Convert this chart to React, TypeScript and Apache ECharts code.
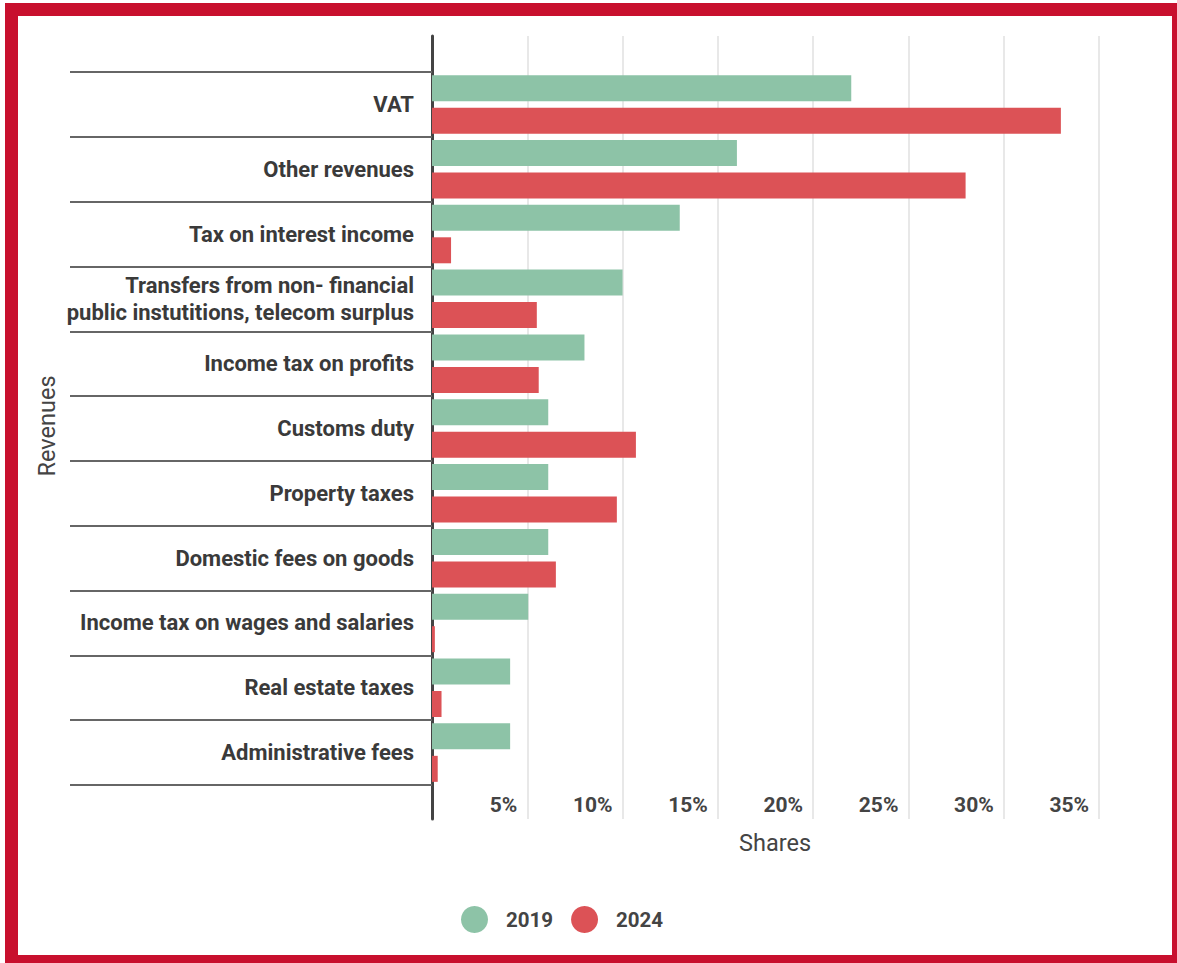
import React, { useEffect, useRef } from "react";
import * as echarts from "echarts";

const categories = [
  "VAT",
  "Other revenues",
  "Tax on interest income",
  "Transfers from non- financial\npublic instutitions, telecom surplus",
  "Income tax on profits",
  "Customs duty",
  "Property taxes",
  "Domestic fees on goods",
  "Income tax on wages and salaries",
  "Real estate taxes",
  "Administrative fees",
];
const values2019 = [22, 16, 13, 10, 8, 6.1, 6.1, 6.1, 5.05, 4.1, 4.1];
const values2024 = [33, 28, 1, 5.5, 5.6, 10.7, 9.7, 6.5, 0.15, 0.5, 0.3];
const seriesNames = ["2019", "2024"];
const xMin = 0;
const xMax = 35;
const xStep = 5;

export default function App() {
  const ref = useRef<HTMLDivElement>(null);
  useEffect(() => {
    if (!ref.current) return;
    const chart = echarts.init(ref.current, undefined, { renderer: "svg" });
    const font = "Roboto, 'Noto Sans', sans-serif";
    chart.setOption({
      animation: false,
      textStyle: { fontFamily: font },
      grid: [
        { left: 432, right: 78, top: 72, bottom: 178 },
        { left: 432, right: 78, top: 36, bottom: 144 },
      ],
      xAxis: [
        { type: "value", gridIndex: 0, min: xMin, max: xMax, interval: xStep, show: false },
        {
          type: "value",
          gridIndex: 1,
          min: xMin,
          max: xMax,
          interval: xStep,
          axisLine: { show: false },
          axisTick: { show: false },
          splitLine: { show: true, lineStyle: { color: "#e0e0e0", width: 1.5 } },
          axisLabel: {
            inside: true,
            margin: 4,
            showMinLabel: false,
            formatter: "{value}%",
            align: "right",
            padding: [0, 10, 0, 0],
            fontSize: 21,
            fontWeight: "bold",
            color: "#444",
            fontFamily: font,
          },
        },
      ],
      yAxis: [
        {
          type: "category",
          gridIndex: 0,
          data: categories,
          inverse: true,
          axisLine: { show: false },
          axisTick: { show: true, length: 362, lineStyle: { color: "#666", width: 2 } },
          axisLabel: {
            margin: 18,
            fontSize: 22,
            fontWeight: "bold",
            color: "#3a3a3a",
            lineHeight: 27,
            fontFamily: font,
          },
          splitLine: { show: false },
        },
        {
          type: "value",
          gridIndex: 1,
          min: 0,
          max: 1,
          axisLine: { show: true, onZero: false, lineStyle: { color: "#444", width: 3 } },
          axisTick: { show: false },
          axisLabel: { show: false },
          splitLine: { show: false },
        },
      ],
      legend: {
        data: seriesNames,
        icon: "circle",
        itemWidth: 27,
        itemHeight: 27,
        itemGap: 18,
        left: 456,
        top: 901,
        textStyle: {
          fontSize: 20.5,
          fontWeight: "bold",
          color: "#444",
          padding: [0, 0, 0, 13],
          fontFamily: font,
        },
      },
      series: [
        {
          name: seriesNames[0],
          type: "bar",
          xAxisIndex: 0,
          yAxisIndex: 0,
          data: values2019,
          barWidth: 26,
          barGap: "25%",
          itemStyle: { color: "#8dc3a7" },
          z: 3,
        },
        {
          name: seriesNames[1],
          type: "bar",
          xAxisIndex: 0,
          yAxisIndex: 0,
          data: values2024,
          barWidth: 26,
          barGap: "25%",
          itemStyle: { color: "#dc5256" },
          z: 3,
        },
      ],
      graphic: [
        {
          type: "text",
          x: 775,
          y: 843,
          style: {
            text: "Shares",
            fontSize: 23.5,
            fill: "#444",
            fontFamily: font,
            align: "center",
            verticalAlign: "middle",
          },
        },
        {
          type: "text",
          x: 47,
          y: 426,
          rotation: Math.PI / 2,
          style: {
            text: "Revenues",
            fontSize: 23.5,
            fill: "#444",
            fontFamily: font,
            align: "center",
            verticalAlign: "middle",
          },
        },
      ],
    });
    return () => chart.dispose();
  }, []);

  return (
    <div
      style={{
        position: "absolute",
        left: 0,
        top: 0,
        width: 1177,
        height: 963,
        overflow: "hidden",
        background: "#fff",
      }}
    >
      <div ref={ref} style={{ position: "absolute", left: 0, top: 0, width: 1177, height: 963 }} />
      <div
        style={{
          position: "absolute",
          left: 5,
          top: 3,
          width: 1180,
          height: 965,
          border: "13px solid #c8102e",
          boxSizing: "border-box",
          pointerEvents: "none",
        }}
      />
    </div>
  );
}
